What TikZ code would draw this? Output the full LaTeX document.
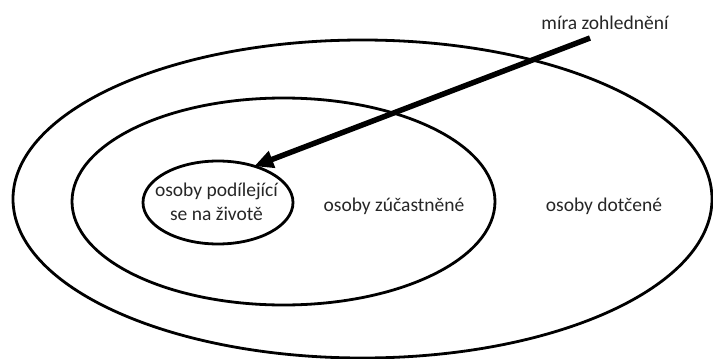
\documentclass[tikz,border=0pt]{standalone}
\usepackage{fontspec}
\setmainfont{Carlito}
\usetikzlibrary{shapes.geometric,arrows.meta}

\begin{document}
\begin{tikzpicture}[x=1pt,y=-1pt,
    ring/.style={ellipse, draw=black, line width=2.8pt, inner sep=0pt, outer sep=0pt},
    label/.style={font=\fontsize{19.5}{23.5}\selectfont, text=black!85, inner sep=0pt, anchor=base, align=center},
    weight/.style={line width=5.5pt, -{Triangle[length=19pt,width=17pt]}}]
  \useasboundingbox (0,0) rectangle (713,359);

  % nested circles of persons
  \node[ring, minimum width=699pt, minimum height=318pt] (outer)  at (362.5,199)   {};
  \node[ring, minimum width=423pt, minimum height=207pt] (middle) at (283.5,201.5) {};
  \node[ring, minimum width=150pt, minimum height=83pt]  (inner)  at (218,202.5)   {};

  % labels (base of a two-line label is its last line)
  \node[label] (tinner)  at (216.5,220) {osoby podílející\\se na životě};
  \node[label] (tmiddle) at (394,211)   {osoby zúčastněné};
  \node[label] (touter)  at (604,211)   {osoby dotčené};
  \node[label] (tweight) at (605,29)    {míra zohlednění};

  % arrow of the degree of consideration
  \coordinate (tail) at (590,38);
  \draw[weight] (tail) -- (inner.45);
\end{tikzpicture}
\end{document}
